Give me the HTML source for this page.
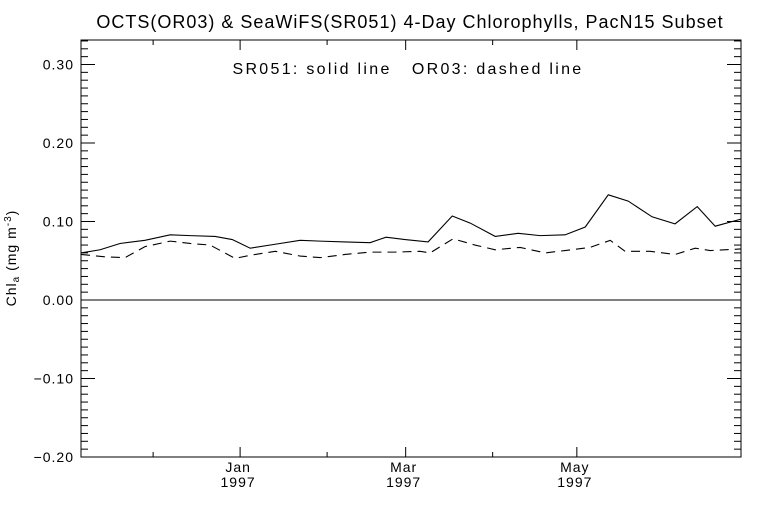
<!DOCTYPE html>
<html><head><meta charset="utf-8"><style>
body{margin:0;background:#fff}
svg text{font-family:"Liberation Sans",sans-serif;fill:#000}
</style></head><body>
<svg width="768" height="512" viewBox="0 0 768 512" xmlns="http://www.w3.org/2000/svg">
<rect width="768" height="512" fill="#fff"/>
<text x="410" y="28" font-size="18" letter-spacing="1" text-anchor="middle">OCTS(OR03) &amp; SeaWiFS(SR051) 4-Day Chlorophylls, PacN15 Subset</text>
<text x="408" y="74" font-size="16" letter-spacing="2.3" text-anchor="middle" xml:space="preserve">SR051: solid line   OR03: dashed line</text>
<text transform="translate(16,258) rotate(-90)" font-size="14" letter-spacing="1" text-anchor="middle">Chl<tspan font-size="10" dy="3">a</tspan><tspan dy="-3"> (mg m</tspan><tspan font-size="10" dy="-5">-3</tspan><tspan dy="5">)</tspan></text>
<g id="axes"></g>
<g id="series"></g>
</svg>
<script>
const solidDays=[-25.7,-18.9,-11.8,-2.9,6.1,13.2,22.1,28.2,34.6,43.5,52.4,59.5,68.4,77.3,83,89.8,98,106.6,113,121.9,130.1,137.9,146.8,154,162.2,169.3,177.8,186,193.9,200.3,209.5];
const solidValues=[0.060,0.064,0.072,0.076,0.083,0.082,0.081,0.077,0.066,0.071,0.076,0.075,0.074,0.073,0.080,0.077,0.074,0.107,0.098,0.081,0.085,0.082,0.083,0.093,0.134,0.126,0.106,0.097,0.119,0.094,0.103];
const dashedDays=[-25.7,-17.1,-10,-2.9,6.1,13.2,20.3,29.2,34.6,43.5,52.4,59.5,68.4,77.3,86.2,95.1,98.7,106.9,114.7,121.9,130.8,139.7,146.8,155.7,162.9,168.2,177.1,186,193.2,198.5,209.5];
const dashedValues=[0.058,0.055,0.054,0.068,0.075,0.072,0.070,0.053,0.057,0.062,0.056,0.054,0.058,0.061,0.061,0.062,0.060,0.078,0.070,0.064,0.067,0.060,0.063,0.067,0.076,0.062,0.062,0.058,0.066,0.063,0.065];
const monthDays=[0,31,62,90,121,151];
const monthLabels=["","Jan\n1997","","Mar\n1997","","May\n1997"];
const yTicks=[-0.20,-0.10,0.00,0.10,0.20,0.30];
const L=81,R=741,T=40,B=457;
const X0=-25.7,X1=209.5;
function xs(d){return L+(d-X0)/(X1-X0)*(R-L);}
function ys(v){return 300-v*785;}
const NS="http://www.w3.org/2000/svg";
const ax=document.getElementById('axes');
function line(x1,y1,x2,y2,name,w){const l=document.createElementNS(NS,'line');l.setAttribute('x1',x1);l.setAttribute('y1',y1);l.setAttribute('x2',x2);l.setAttribute('y2',y2);l.setAttribute('stroke','#000');l.setAttribute('stroke-width',w||1);


ax.appendChild(l);return l;}
function text(x,y,s,anchor,name){const t=document.createElementNS(NS,'text');t.setAttribute('x',x);t.setAttribute('y',y);t.setAttribute('font-size','14');t.setAttribute('letter-spacing','1');t.setAttribute('text-anchor',anchor);t.textContent=s;


ax.appendChild(t);}
const fr=document.createElementNS(NS,'rect');
fr.setAttribute('x',L);fr.setAttribute('y',T);fr.setAttribute('width',R-L);fr.setAttribute('height',B-T);fr.setAttribute('fill','none');fr.setAttribute('stroke','#000');


ax.appendChild(fr);
line(L,ys(0),R,ys(0),'zero-line');
for(let i=-20;i<=33;i++){const y=ys(i/100);if(y<T||y>B)continue;const major=i%10===0;const len=major?14:7;
line(L,y,L+len,y,'y-tick');line(R-len,y,R,y,'y-tick');}
yTicks.forEach(v=>text(L-7,ys(v)+5,v.toFixed(2).replace('-','\u2212'),'end','y-tick-label'));
monthDays.forEach((d,i)=>{const x=xs(d);const major=monthLabels[i]!=="";const len=major?10:5;
line(x,B,x,B-len,'x-tick');line(x,T,x,T+len,'x-tick');
if(major){const p=monthLabels[i].split('\n');text(x-2,B+15,p[0],'middle','x-tick-label');text(x-2,B+30,p[1],'middle','x-tick-label');}});
const sg=document.getElementById('series');
function path(days,vals,dash,name){const p=document.createElementNS(NS,'polyline');
p.setAttribute('points',days.map((d,i)=>xs(d)+','+ys(vals[i])).join(' '));
p.setAttribute('fill','none');p.setAttribute('stroke','#000');p.setAttribute('stroke-width','1.1');
if(dash)p.setAttribute('stroke-dasharray','9,6');


sg.appendChild(p);}
path(solidDays,solidValues,false,'sr051-solid-line');
path(dashedDays,dashedValues,true,'or03-dashed-line');
</script>
</body></html>
